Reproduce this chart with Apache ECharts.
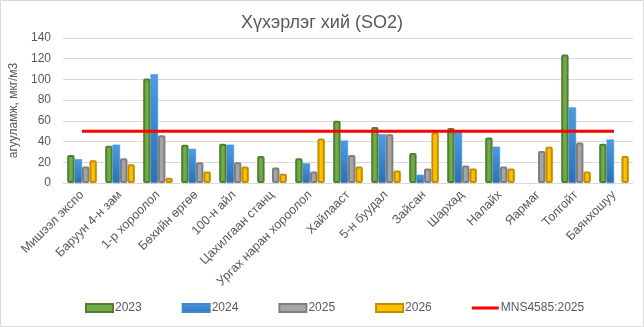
<!DOCTYPE html>
<html>
<head>
<meta charset="utf-8">
<script src="https://cdn.jsdelivr.net/npm/echarts@6/dist/echarts.min.js"></script>
<style>
html,body{margin:0;padding:0;background:#fff;}
#c{width:644px;height:327px;}
</style>
</head>
<body>
<div id="c"></div>
<script>
const categories = ['Мишээл экспо','Баруун 4-н зам','1-р хороолол','Бөхийн өргөө','100-н айл','Цахилгаан станц','Ургах наран хороолол','Хайлааст','5-н буудал','Зайсан','Шархад','Налайх','Яармаг','Толгойт','Баянхошуу'];
const v2023 = [27, 36, 101, 37, 38, 26, 24, 60, 54, 29, 53, 44, null, 124, 38];
const v2024 = [23, 37, 105, 33, 37, null, 19, 41, 47, 8, 49, 35, null, 73, 42];
const v2025 = [16, 24, 46, 20, 20, 15, 11, 27, 47, 14, 17, 16, 31, 39, null];
const v2026 = [22, 18, 5, 11, 16, 9, 43, 16, 12, 49, 14, 14, 35, 11, 26];
const standardValue = 50;
const standardName = 'MNS4585:2025';
const yTicks = {min: 0, max: 140, interval: 20};

const chart = echarts.init(document.getElementById('c'));
const font = 'Liberation Sans, Arial, sans-serif';
const txt = '#595959';
const barCommon = {type: 'bar', barGap: '0%', barCategoryGap: '22%'};
const lineIcon = 'path://M0,0 L0,0.01 M0,2.5 L27,2.5 L27,5.5 L0,5.5 Z M27,8 L27,7.99';
chart.setOption({
  animation: false,
  textStyle: {fontFamily: font},
  graphic: [{type: 'rect', shape: {x: 0.5, y: 0.5, width: 643, height: 326}, style: {fill: null, stroke: '#d9d9d9', lineWidth: 1}, z: -10}],
  title: {text: 'Хүхэрлэг хий (SO2)', left: 'center', top: 9, textStyle: {fontFamily: font, fontSize: 18, fontWeight: 'normal', color: txt}},
  grid: {left: 63, right: 11, top: 38, bottom: 144},
  legend: {
    left: 80, top: 297, itemWidth: 27, itemHeight: 8, itemGap: 40,
    textStyle: {fontFamily: font, fontSize: 12, color: txt, padding: [0,0,0,-3]},
    data: [{name:'2023', icon:'rect'},{name:'2024', icon:'rect'},{name:'2025', icon:'rect'},{name:'2026', icon:'rect'},{name: standardName, icon: lineIcon, itemStyle: {color: '#FF0000', borderWidth: 0}}]
  },
  xAxis: {
    type: 'category', data: categories,
    axisLine: {lineStyle: {color: '#d9d9d9'}}, axisTick: {show: false},
    axisLabel: {rotate: 45, interval: 0, fontSize: 12.5, color: txt, fontFamily: font, margin: 10}
  },
  yAxis: {
    type: 'value', min: yTicks.min, max: yTicks.max, interval: yTicks.interval,
    name: 'агууламж, мкг/м3', nameLocation: 'middle', nameGap: 32, nameRotate: 90,
    nameTextStyle: {fontSize: 12, color: txt, fontFamily: font},
    axisLine: {show: false}, axisTick: {show: false},
    axisLabel: {fontSize: 12, color: txt, fontFamily: font, margin: 12},
    splitLine: {lineStyle: {color: '#d9d9d9', width: 1}}
  },
  series: [
    Object.assign({}, barCommon, {name: '2023', data: v2023, itemStyle: {color: '#70AD47', borderColor: '#507E32', borderWidth: 2, borderRadius: 1}}),
    Object.assign({}, barCommon, {name: '2024', data: v2024, itemStyle: {color: new echarts.graphic.LinearGradient(0,0,0,1,[{offset:0,color:'#4A9DE6'},{offset:1,color:'#2E6FB0'}]), borderColor: '#3F87CF', borderWidth: 0.5}}),
    Object.assign({}, barCommon, {name: '2025', data: v2025, itemStyle: {color: '#A5A5A5', borderColor: '#7F7F7F', borderWidth: 2, borderRadius: 1}}),
    Object.assign({}, barCommon, {name: '2026', data: v2026, itemStyle: {color: '#FFC000', borderColor: '#BF8F00', borderWidth: 2, borderRadius: 1}}),
    {type: 'line', name: standardName, data: categories.map(() => standardValue), symbol: 'none', lineStyle: {color: '#FF0000', width: 3}, itemStyle: {color: '#FF0000'}, z: 5}
  ]
});
</script>
</body>
</html>
